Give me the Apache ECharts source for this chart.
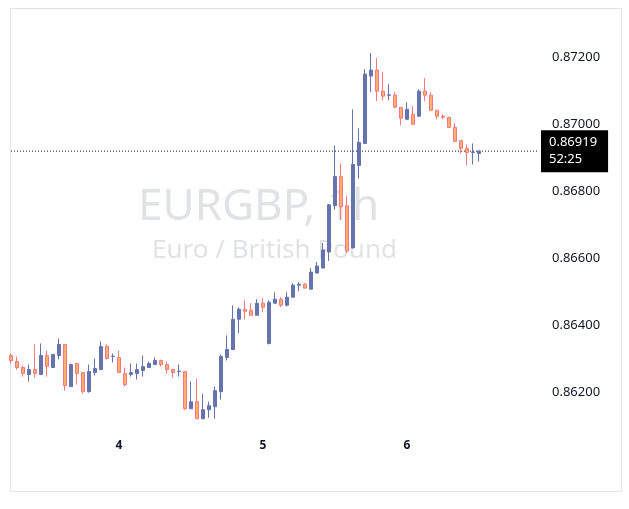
<!DOCTYPE html>
<html><head><meta charset="utf-8">
<script src="https://cdn.jsdelivr.net/npm/echarts@6/dist/echarts.min.js"></script>
<style>html,body{margin:0;padding:0;background:#fff}#c{width:629px;height:509px}</style>
</head><body><div id="c"></div>
<script>
// hourly candles, 3rd 06:00 .. 6th 12:00 : [open, close, low, high]
let candles = [
  [0.86309,0.86294,0.86285,0.86315],[0.86291,0.86273,0.86267,0.86306],[0.86273,0.86255,0.86246,0.86279],
  [0.86252,0.86267,0.86231,0.86282],[0.86267,0.86255,0.86243,0.86342],[0.86252,0.86309,0.86252,0.86345],
  [0.86309,0.86276,0.86246,0.86324],[0.86273,0.86312,0.86273,0.86312],[0.86309,0.86342,0.86297,0.86360],
  [0.86342,0.86219,0.86204,0.86342],[0.86216,0.86282,0.86216,0.86285],[0.86285,0.86255,0.86222,0.86285],
  [0.86258,0.86201,0.86195,0.86258],[0.86201,0.86261,0.86198,0.86282],[0.86258,0.86270,0.86249,0.86300],
  [0.86267,0.86336,0.86267,0.86351],[0.86336,0.86300,0.86297,0.86342],[0.86306,0.86307,0.86288,0.86315],
  [0.86303,0.86258,0.86258,0.86324],[0.86255,0.86222,0.86216,0.86273],[0.86252,0.86258,0.86246,0.86285],
  [0.86255,0.86267,0.86237,0.86285],[0.86264,0.86276,0.86246,0.86309],[0.86273,0.86285,0.86273,0.86291],
  [0.86282,0.86294,0.86282,0.86303],[0.86294,0.86282,0.86276,0.86297],[0.86282,0.86267,0.86255,0.86291],
  [0.86267,0.86258,0.86243,0.86267],[0.86261,0.86262,0.86246,0.86282],[0.86261,0.86150,0.86147,0.86261],
  [0.86150,0.86171,0.86150,0.86231],[0.86171,0.86120,0.86120,0.86240],[0.86120,0.86147,0.86120,0.86195],
  [0.86147,0.86159,0.86123,0.86171],[0.86156,0.86204,0.86120,0.86216],[0.86201,0.86306,0.86177,0.86312],
  [0.86303,0.86327,0.86294,0.86369],[0.86327,0.86417,0.86327,0.86459],[0.86417,0.86447,0.86375,0.86453],
  [0.86447,0.86441,0.86417,0.86474],[0.86444,0.86429,0.86429,0.86465],[0.86429,0.86465,0.86429,0.86477],
  [0.86465,0.86453,0.86438,0.86480],[0.86345,0.86468,0.86342,0.86474],[0.86465,0.86477,0.86465,0.86498],
  [0.86477,0.86459,0.86453,0.86483],[0.86459,0.86483,0.86456,0.86498],[0.86483,0.86519,0.86483,0.86525],
  [0.86519,0.86522,0.86501,0.86528],[0.86522,0.86510,0.86510,0.86525],[0.86507,0.86558,0.86507,0.86570],
  [0.86555,0.86576,0.86555,0.86588],[0.86570,0.86624,0.86570,0.86645],[0.86618,0.86759,0.86591,0.86759],
  [0.86756,0.86843,0.86744,0.86936],[0.86843,0.86753,0.86714,0.86882],[0.86756,0.86621,0.86615,0.86786],
  [0.86630,0.86879,0.86630,0.87044],[0.86876,0.86945,0.86837,0.86987],[0.86942,0.87149,0.86942,0.87164],
  [0.87143,0.87161,0.87095,0.87212],[0.87161,0.87098,0.87068,0.87197],[0.87098,0.87083,0.87071,0.87155],
  [0.87086,0.87087,0.87071,0.87119],[0.87086,0.87050,0.87047,0.87095],[0.87050,0.87017,0.86996,0.87050],
  [0.87014,0.87044,0.87014,0.87065],[0.87029,0.86999,0.86999,0.87053],[0.87023,0.87098,0.87023,0.87104],
  [0.87098,0.87086,0.87068,0.87137],[0.87086,0.87041,0.87038,0.87095],[0.87041,0.87023,0.87014,0.87041],
  [0.87023,0.87020,0.87014,0.87029],[0.87020,0.86990,0.86990,0.87020],[0.86990,0.86948,0.86948,0.87002],
  [0.86951,0.86927,0.86912,0.86951],[0.86927,0.86915,0.86876,0.86939],[0.86915,0.86916,0.86879,0.86942],
  [0.86912,0.86919,0.86888,0.86921]
];
let lastPrice = 0.86919;
let countdown = '52:25';
let dayLabels = {'4': '4', '5': '5', '6': '6'};

// hour slots, plus empty room on the right
let times = [];
let day = 3, hour = 6;
for (let i = 0; i < 89; i++) {
  times.push(day + ' ' + hour);
  hour++;
  if (hour === 24) { hour = 0; day++; }
}
let priceLine = times.map(() => lastPrice);

let myChart = echarts.init(document.getElementById('c'));
myChart.setOption({
  backgroundColor: '#fff',
  animation: false,
  grid: {left: 8, right: 87, top: 23.5, bottom: 83.5},
  graphic: [
    {type: 'rect', shape: {x: 10.5, y: 8.5, width: 611, height: 483}, style: {fill: 'none', stroke: '#e0e3eb', lineWidth: 1}, z: -10},
    {type: 'text', left: 138, top: 185, style: {text: 'EURGBP, 1h', fill: 'rgba(120,123,134,0.22)', font: '44px "Noto Sans", sans-serif'}, z: -5},
    {type: 'text', left: 152, top: 238, style: {text: 'Euro / British Pound', fill: 'rgba(120,123,134,0.22)', font: '26px "Noto Sans", sans-serif'}, z: -5}
  ],
  xAxis: {
    type: 'category',
    data: times,
    axisLine: {show: false},
    axisTick: {show: false},
    splitLine: {show: false},
    axisLabel: {
      interval: 0,
      margin: 14,
      color: '#131722',
      fontSize: 12,
      fontWeight: 'bold',
      fontFamily: 'Noto Sans',
      formatter: function (v) {
        let p = v.split(' ');
        return p[1] === '0' ? (dayLabels[p[0]] || '') : '';
      }
    }
  },
  yAxis: {
    type: 'value',
    position: 'right',
    min: 0.861,
    max: 0.873,
    interval: 0.001,
    axisLine: {show: false},
    axisTick: {show: false},
    splitLine: {show: false},
    axisLabel: {
      margin: 10,
      color: '#131722',
      fontSize: 13,
      fontFamily: 'Noto Sans',
      formatter: function (v) {
        return Math.round(v * 1000) % 2 === 0 ? v.toFixed(5) : '';
      }
    }
  },
  series: [{
    type: 'candlestick',
    data: candles,
    barWidth: 4,
    itemStyle: {
      color: '#6674ad',
      color0: '#fcae6e',
      borderColor: '#6674ad',
      borderColor0: '#f7797e',
      borderWidth: 1
    }
  }, {
    type: 'line',
    data: priceLine,
    showSymbol: false,
    silent: true,
    z: 1,
    lineStyle: {color: '#131722', type: [1, 2], width: 1},
    endLabel: {
      show: true,
      distance: 2,
      formatter: lastPrice.toFixed(5) + '\n' + countdown,
      backgroundColor: '#000',
      color: '#fff',
      fontSize: 13,
      lineHeight: 17,
      fontFamily: 'Noto Sans',
      padding: [4, 11, 4, 8]
    }
  }]
});
</script>
</body></html>
